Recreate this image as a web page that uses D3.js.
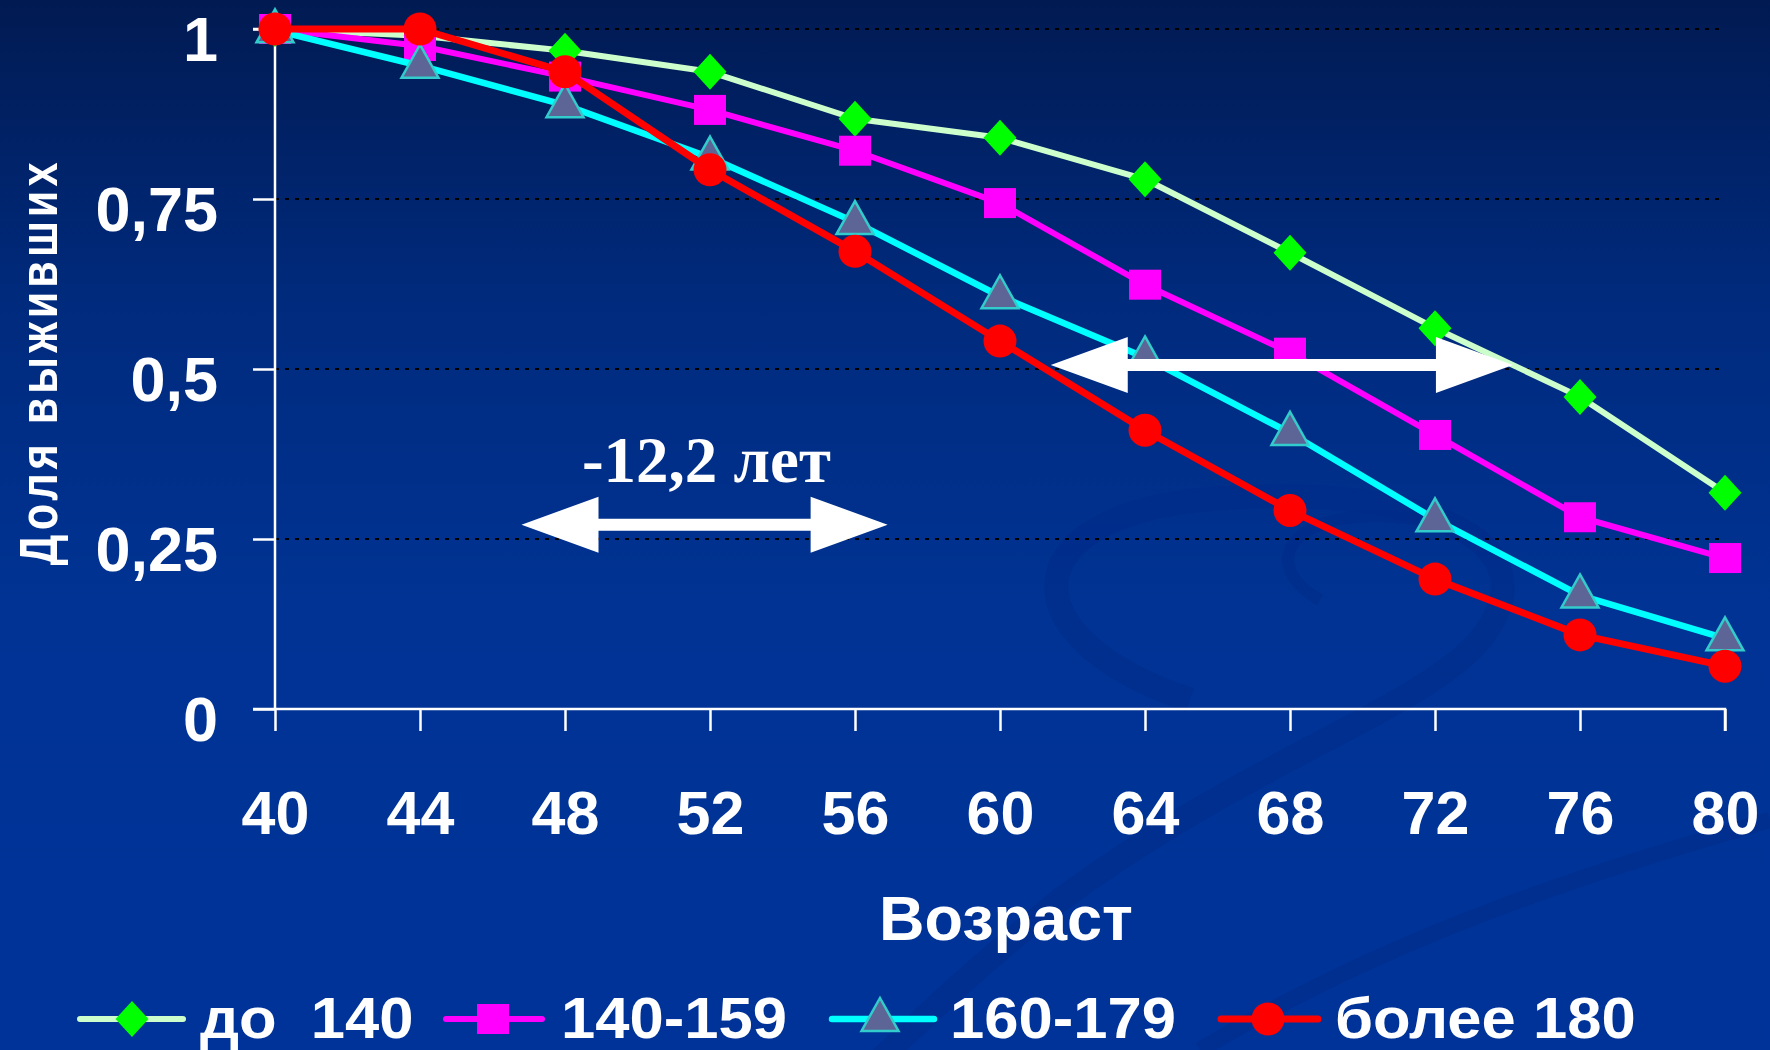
<!DOCTYPE html>
<html>
<head>
<meta charset="utf-8">
<script src="https://cdn.jsdelivr.net/npm/d3@7"></script>
<style>
  html, body { margin: 0; padding: 0; background: #003399; }
  svg { display: block; }
  text { font-family: "Liberation Sans", Arial, sans-serif; font-weight: bold; fill: #fff; }
</style>
</head>
<body>
<svg id="chart" width="1770" height="1050"></svg>
<script>
// ---------- data ----------
const ages = [40, 44, 48, 52, 56, 60, 64, 68, 72, 76, 80];
const seriesNames = ["до  140", "140-159", "160-179", "более 180"];
const under140   = [1.000, 0.990, 0.968, 0.937, 0.868, 0.840, 0.779, 0.671, 0.560, 0.459, 0.318];
const s140_159   = [1.000, 0.975, 0.930, 0.881, 0.821, 0.744, 0.624, 0.524, 0.403, 0.282, 0.222];
const s160_179   = [0.998, 0.946, 0.888, 0.811, 0.716, 0.607, 0.517, 0.406, 0.279, 0.167, 0.104];
const over180    = [1.000, 1.000, 0.937, 0.793, 0.673, 0.541, 0.410, 0.292, 0.191, 0.109, 0.063];
const yTicks = [0, 0.25, 0.5, 0.75, 1];
const yTickLabels = ["0", "0,25", "0,5", "0,75", "1"];
const yTitle = "Доля выживших";
const xTitle = "Возраст";
// annotations (data units)
const annoText = "-12,2 лет";
const annoTextPos = [51.9, 0.334];
const arrows = [ { x0: 46.8, x1: 56.9, y: 0.271 }, { x0: 61.4, x1: 74.15, y: 0.506 } ];

// ---------- layout ----------
const W = 1770, H = 1050;
const x = d3.scaleLinear().domain([40, 80]).range([275, 1725]);
const y = d3.scaleLinear().domain([0, 1]).range([709, 29]);

const svg = d3.select("#chart");

// background
const defs = svg.append("defs");
const bg = defs.append("linearGradient").attr("id", "bg").attr("x1", 0).attr("y1", 0).attr("x2", 0).attr("y2", 1);
bg.append("stop").attr("offset", "0%").attr("stop-color", "#011a52");
bg.append("stop").attr("offset", "28%").attr("stop-color", "#002a7c");
bg.append("stop").attr("offset", "58%").attr("stop-color", "#003394");
bg.append("stop").attr("offset", "100%").attr("stop-color", "#003399");
svg.append("rect").attr("width", W).attr("height", H).attr("fill", "url(#bg)");

// faint decorative swooshes
const deco = svg.append("g").attr("fill", "none").attr("stroke", "#002b88").attr("stroke-opacity", 0.45);
deco.append("path").attr("stroke-width", 24)
  .attr("d", "M1190,700 C1010,640 1010,520 1200,500 C1420,480 1560,540 1480,640 C1420,710 1250,760 1060,900 C960,980 900,1040 880,1060");
deco.append("path").attr("stroke-width", 16)
  .attr("d", "M1770,820 C1600,870 1400,930 1200,1050");
deco.append("path").attr("stroke-width", 12)
  .attr("d", "M1320,600 C1250,560 1300,500 1420,520");

// gridlines
svg.append("g").selectAll("line").data(yTicks.filter(d => d > 0)).join("line")
  .attr("x1", x(40)).attr("x2", x(80))
  .attr("y1", d => y(d)).attr("y2", d => y(d))
  .attr("stroke", "#000").attr("stroke-width", 2).attr("stroke-dasharray", "4,6");

// y axis
const yAxis = d3.axisLeft(y).tickValues(yTicks).tickFormat((d, i) => yTickLabels[i]).tickSize(22).tickPadding(35);
const gy = svg.append("g").attr("transform", `translate(${x(40)},0)`).call(yAxis);
gy.select(".domain").attr("stroke", "#fff").attr("stroke-width", 2.5).attr("d", `M-22,${y(1)}H0V${y(0)}`);
gy.selectAll(".tick line").attr("stroke", "#fff").attr("stroke-width", 2.5);
gy.selectAll(".tick text").attr("fill", "#fff").style("font-size", "63px")
  .style("font-family", "'Liberation Sans', Arial, sans-serif").style("font-weight", "bold")
  .attr("dy", "0.5em");

// x axis
const xAxis = d3.axisBottom(x).tickValues(ages).tickFormat(d3.format("d")).tickSize(22).tickPadding(60);
const gx = svg.append("g").attr("transform", `translate(0,${y(0)})`).call(xAxis);
gx.select(".domain").attr("stroke", "#fff").attr("stroke-width", 2.5).attr("d", `M${x(40) - 22},0H${x(80)}V22`);
gx.selectAll(".tick line").attr("stroke", "#fff").attr("stroke-width", 2.5);
gx.selectAll(".tick text").attr("fill", "#fff").style("font-size", "61px")
  .style("font-family", "'Liberation Sans', Arial, sans-serif").style("font-weight", "bold");

// axis titles
svg.append("text").attr("x", 1006).attr("y", 940).attr("text-anchor", "middle")
  .style("font-size", "63px").text(xTitle);
svg.append("text").attr("transform", "translate(57,362) rotate(-90) scale(0.8,1)").attr("text-anchor", "middle")
  .style("font-size", "54px").style("letter-spacing", "5px").text(yTitle);

// ---------- series ----------
const diamond = { draw(ctx) { const w = 16.5, h = 18; ctx.moveTo(0, -h); ctx.lineTo(w, 0); ctx.lineTo(0, h); ctx.lineTo(-w, 0); ctx.closePath(); } };
const square = { draw(ctx) { const a = 16; ctx.rect(-a, -a + 1, 2 * a, 2 * a - 2); } };
const triangle = { draw(ctx) { ctx.moveTo(0, -21); ctx.lineTo(18.5, 12); ctx.lineTo(-18.5, 12); ctx.closePath(); } };
const circleSym = { draw(ctx) { ctx.moveTo(16.5, 0); ctx.arc(0, 0, 16.5, 0, 2 * Math.PI); } };

const series = [
  { name: seriesNames[0], values: under140, line: "#ccffcc", lw: 6, fill: "#00ff00", stroke: "none", sym: diamond },
  { name: seriesNames[1], values: s140_159, line: "#ff00ff", lw: 6, fill: "#ff00ff", stroke: "none", sym: square },
  { name: seriesNames[2], values: s160_179, line: "#00ffff", lw: 6.5, fill: "#5d6597", stroke: "#33cccc", sym: triangle },
  { name: seriesNames[3], values: over180, line: "#ff0000", lw: 7, fill: "#ff0000", stroke: "none", sym: circleSym }
];

const line = d3.line().x((d, i) => x(ages[i])).y(d => y(d));
series.forEach(s => {
  const g = svg.append("g");
  g.append("path").attr("d", line(s.values)).attr("fill", "none")
    .attr("stroke", s.line).attr("stroke-width", s.lw).attr("stroke-linejoin", "round");
  g.selectAll("path.m").data(s.values).join("path").attr("class", "m")
    .attr("transform", (d, i) => `translate(${x(ages[i])},${y(d)})`)
    .attr("d", d3.symbol().type(s.sym)())
    .attr("fill", s.fill).attr("stroke", s.stroke).attr("stroke-width", 2.5);
});

// ---------- annotations ----------
function dblArrow(g, x0, x1, yc) {
  const head = 77, hh = 28, sh = 6;
  const p = d3.path();
  p.moveTo(x0, yc);
  p.lineTo(x0 + head, yc - hh);
  p.lineTo(x0 + head, yc - sh);
  p.lineTo(x1 - head, yc - sh);
  p.lineTo(x1 - head, yc - hh);
  p.lineTo(x1, yc);
  p.lineTo(x1 - head, yc + hh);
  p.lineTo(x1 - head, yc + sh);
  p.lineTo(x0 + head, yc + sh);
  p.lineTo(x0 + head, yc + hh);
  p.closePath();
  g.append("path").attr("d", p.toString()).attr("fill", "#fff");
}
const ag = svg.append("g");
arrows.forEach(a => dblArrow(ag, x(a.x0), x(a.x1), y(a.y)));
svg.append("text").attr("x", x(annoTextPos[0])).attr("y", y(annoTextPos[1])).attr("text-anchor", "middle")
  .style("font-family", "'Liberation Serif', 'Times New Roman', serif").style("font-size", "65px")
  .text(annoText);

// ---------- legend ----------
const legendItems = [
  { lx0: 80, lx1: 183, mx: 132, tx: 200 },
  { lx0: 446, lx1: 542, mx: 493, tx: 561 },
  { lx0: 832, lx1: 934, mx: 880, tx: 950 },
  { lx0: 1221, lx1: 1318, mx: 1268, tx: 1335 }
];
const legY = 1019;
const lg = svg.append("g");
series.forEach((s, i) => {
  const L = legendItems[i];
  lg.append("line").attr("x1", L.lx0).attr("x2", L.lx1).attr("y1", legY).attr("y2", legY)
    .attr("stroke", s.line).attr("stroke-width", s.lw).attr("stroke-linecap", "round");
  lg.append("path").attr("transform", `translate(${L.mx},${legY})`).attr("d", d3.symbol().type(s.sym)())
    .attr("fill", s.fill).attr("stroke", s.stroke).attr("stroke-width", 2.5);
  lg.append("text").attr("transform", `translate(${L.tx},1038) scale(1.08,1)`)
    .style("font-size", "57px").style("white-space", "pre").text(s.name);
});
</script>
</body>
</html>
